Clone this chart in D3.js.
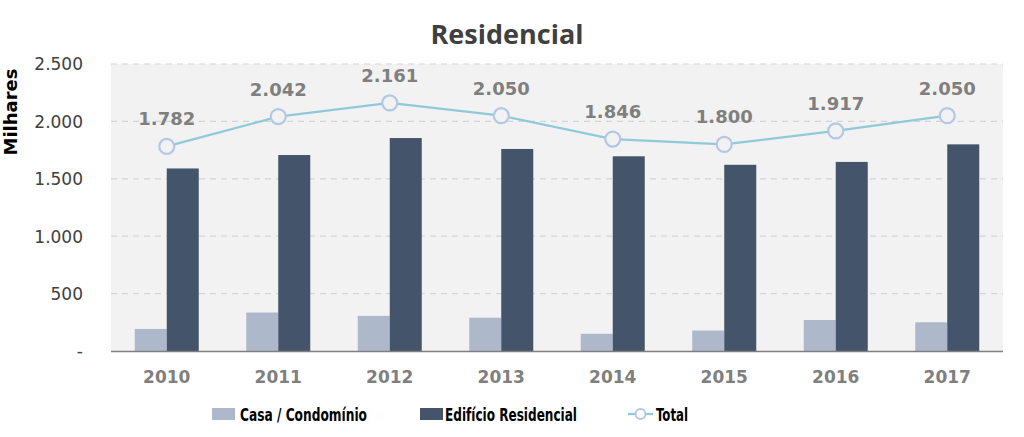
<!DOCTYPE html>
<html><head><meta charset="utf-8">
<script src="https://cdn.jsdelivr.net/npm/d3@7/dist/d3.min.js"></script>
<style>body{margin:0;background:#fff}svg{display:block}</style>
</head><body><svg id="c" width="1024" height="437"></svg>
<script>
const years = ["2010","2011","2012","2013","2014","2015","2016","2017"];
const casa = [192, 335, 306, 290, 150, 178, 270, 250];
const edificio = [1590, 1707, 1855, 1760, 1696, 1622, 1647, 1800];
const total = [1782, 2042, 2161, 2050, 1846, 1800, 1917, 2050];
const yTicks = [0, 500, 1000, 1500, 2000, 2500];
const fmt = v => v === 0 ? "-" : d3.format(",")(v).replace(/,/g, ".");

const svg = d3.select("#c");
const m = {l:111, r:1003, t:64, b:351};
const x = d3.scaleBand().domain(years).range([m.l, m.r]);
const y = d3.scaleLinear().domain([0, 2500]).range([m.b, m.t]);
const bw = 32;

svg.append("rect").attr("x", m.l).attr("y", m.t).attr("width", m.r - m.l).attr("height", m.b - m.t).attr("fill", "#f2f2f2");

// grid
svg.append("g").selectAll("line").data(yTicks.slice(1)).join("line")
  .attr("x1", m.l).attr("x2", m.r).attr("y1", d => y(d)).attr("y2", d => y(d))
  .attr("stroke", "#d4d4d4").attr("stroke-width", 1.2).attr("stroke-dasharray", "6,5");

// y axis labels
const ya = svg.append("g").attr("transform", `translate(${m.l - 25},0)`)
  .call(d3.axisLeft(y).tickValues(yTicks).tickFormat(fmt).tickSize(0));
ya.select(".domain").remove();
ya.selectAll("text").attr("font-family", "DejaVu Sans").attr("font-size", 17).attr("fill", "#404040").attr("dy", "0.35em");

svg.append("text").attr("transform", "translate(17,112) rotate(-90)").attr("text-anchor", "middle")
  .attr("font-family", "DejaVu Sans").attr("font-weight", "bold").attr("font-size", 18).attr("fill", "#000").text("Milhares");

// bars
const c = d => x(d) + x.bandwidth() / 2;
svg.append("g").selectAll("rect").data(years).join("rect")
  .attr("x", d => c(d) - bw).attr("width", bw)
  .attr("y", (d, i) => y(casa[i])).attr("height", (d, i) => y(0) - y(casa[i])).attr("fill", "#adb9ca");
svg.append("g").selectAll("rect").data(years).join("rect")
  .attr("x", d => c(d)).attr("width", bw)
  .attr("y", (d, i) => y(edificio[i])).attr("height", (d, i) => y(0) - y(edificio[i])).attr("fill", "#44546a");

// x axis
svg.append("line").attr("x1", m.l).attr("x2", m.r).attr("y1", m.b + 0.5).attr("y2", m.b + 0.5).attr("stroke", "#7f7f7f").attr("stroke-width", 1.5);
const xa = svg.append("g").attr("transform", `translate(0,${m.b})`).call(d3.axisBottom(x).tickSize(0));
xa.select(".domain").remove();
xa.selectAll("text").attr("font-family", "DejaVu Sans").attr("font-weight", "bold").attr("font-size", 17).attr("fill", "#7f7f7f").attr("dy", "1.68em");

// line
const line = d3.line().x((d, i) => c(years[i])).y(d => y(d));
svg.append("path").datum(total).attr("d", line).attr("fill", "none").attr("stroke", "#8fcad8").attr("stroke-width", 2.2);
svg.append("g").selectAll("circle").data(total).join("circle")
  .attr("cx", (d, i) => c(years[i])).attr("cy", d => y(d)).attr("r", 7.5)
  .attr("fill", "#f2f2f2").attr("stroke", "#b4c7e7").attr("stroke-width", 2.2);
svg.append("g").selectAll("text").data(total).join("text")
  .attr("x", (d, i) => c(years[i])).attr("y", d => y(d) - 21).attr("text-anchor", "middle")
  .attr("font-family", "DejaVu Sans").attr("font-weight", "bold").attr("font-size", 18).attr("fill", "#7f7f7f")
  .text(fmt);

// title
svg.append("text").attr("x", 507).attr("y", 44).attr("text-anchor", "middle")
  .attr("font-family", "Open Sans").attr("font-weight", "bold").attr("font-size", 27).attr("fill", "#404040").text("Residencial");

// legend
const lg = svg.append("g").attr("font-family", "'DejaVu Sans Condensed', sans-serif").attr("font-weight", "bold").attr("font-size", 18.5).attr("fill", "#000");
lg.append("rect").attr("x", 212).attr("y", 408).attr("width", 23).attr("height", 12).attr("fill", "#adb9ca");
lg.append("text").attr("x", 240).attr("y", 420.5).attr("textLength", 127).attr("lengthAdjust", "spacingAndGlyphs").text("Casa / Condomínio");
lg.append("rect").attr("x", 420).attr("y", 408).attr("width", 23).attr("height", 12).attr("fill", "#44546a");
lg.append("text").attr("x", 445).attr("y", 420.5).attr("textLength", 132).attr("lengthAdjust", "spacingAndGlyphs").text("Edifício Residencial");
lg.append("line").attr("x1", 628).attr("x2", 653).attr("y1", 414).attr("y2", 414).attr("stroke", "#8fcad8").attr("stroke-width", 2.2);
lg.append("circle").attr("cx", 640.5).attr("cy", 414).attr("r", 5).attr("fill", "#fff").attr("stroke", "#b4c7e7").attr("stroke-width", 2);
lg.append("text").attr("x", 656).attr("y", 420.5).attr("textLength", 32).attr("lengthAdjust", "spacingAndGlyphs").text("Total");
</script></body></html>
